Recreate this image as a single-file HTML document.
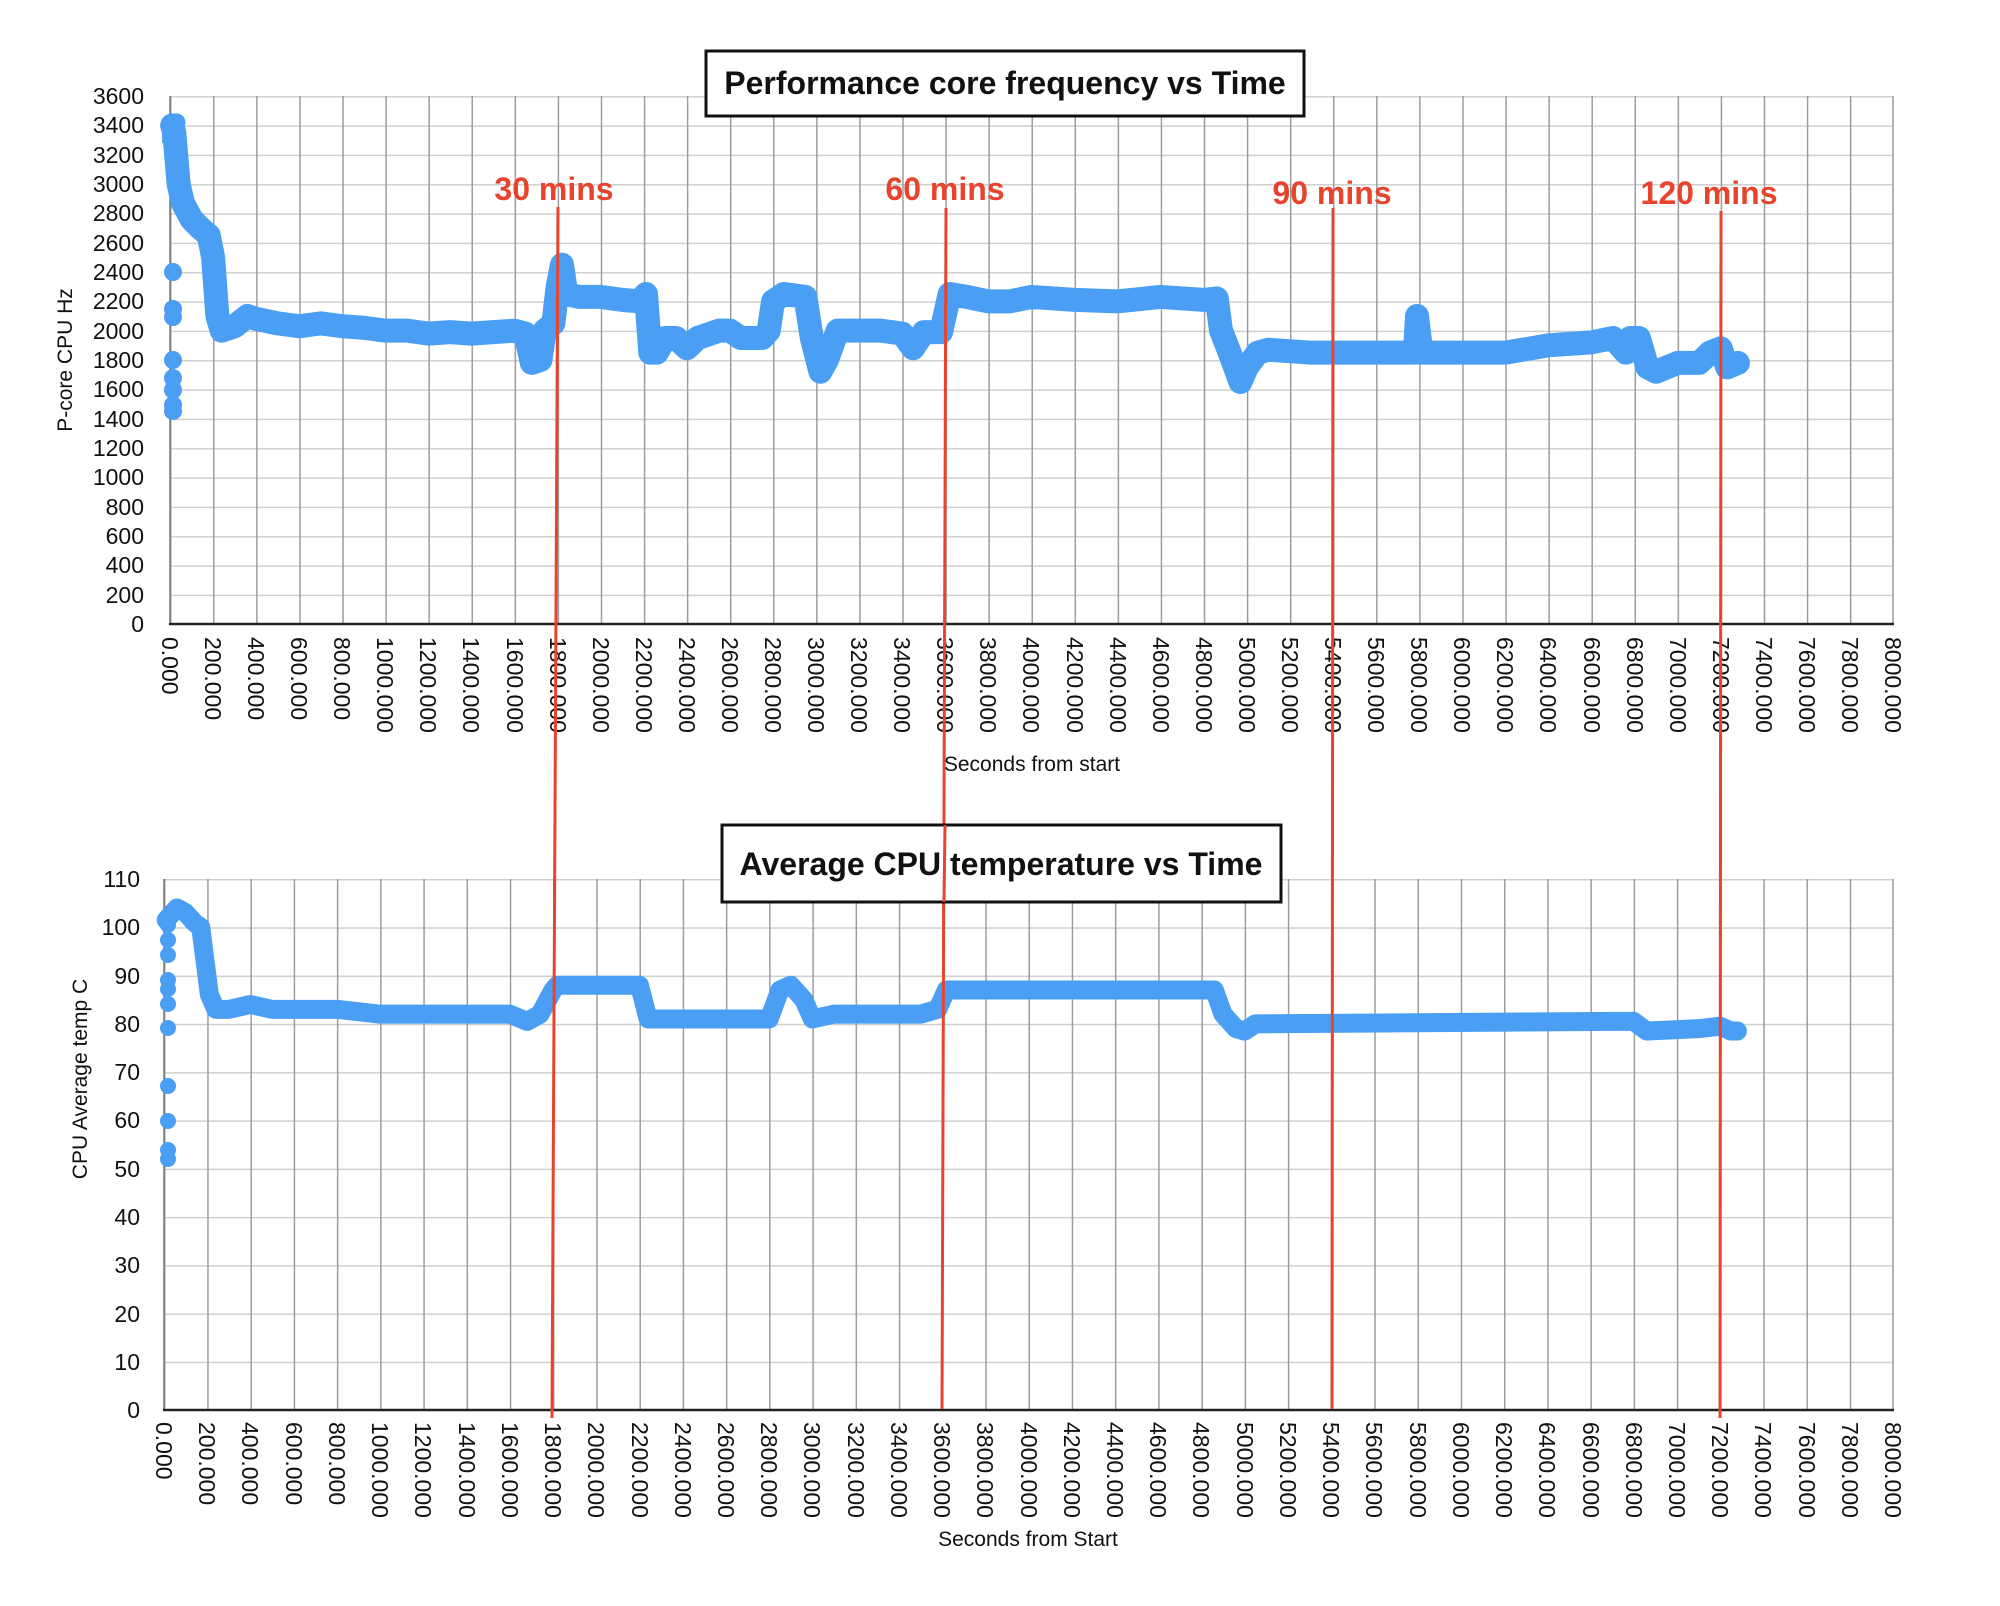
<!DOCTYPE html>
<html><head><meta charset="utf-8"><style>html,body{margin:0;padding:0;background:#fff}svg{display:block}</style></head>
<body>
<svg width="2000" height="1606" viewBox="0 0 2000 1606" xmlns="http://www.w3.org/2000/svg" font-family="Liberation Sans, Arial, sans-serif">
<defs>
<pattern id="g1" patternUnits="userSpaceOnUse" x="170" y="96" width="43.075" height="29.333">
<line x1="0" y1="0.5" x2="43.075" y2="0.5" stroke="#cfcfcf" stroke-width="2"/>
<line x1="0.7" y1="0" x2="0.7" y2="29.333" stroke="#9a9a9a" stroke-width="1.5"/>
</pattern>
<pattern id="g2" patternUnits="userSpaceOnUse" x="164" y="879" width="43.225" height="48.273">
<line x1="0" y1="0.5" x2="43.225" y2="0.5" stroke="#cfcfcf" stroke-width="2"/>
<line x1="0.7" y1="0" x2="0.7" y2="48.273" stroke="#9a9a9a" stroke-width="1.5"/>
</pattern>
</defs>
<rect width="2000" height="1606" fill="#fff"/>
<rect x="170" y="96" width="1723" height="528" fill="url(#g1)"/>
<line x1="1893" y1="96" x2="1893" y2="624" stroke="#9a9a9a" stroke-width="1.5"/>
<line x1="170" y1="96" x2="170" y2="624" stroke="#777" stroke-width="1.5"/>
<line x1="169" y1="624" x2="1894" y2="624" stroke="#222" stroke-width="2.5"/>
<rect x="164" y="879" width="1729" height="531" fill="url(#g2)"/>
<line x1="1893" y1="879" x2="1893" y2="1410" stroke="#9a9a9a" stroke-width="1.5"/>
<line x1="164" y1="879" x2="164" y2="1410" stroke="#777" stroke-width="1.5"/>
<line x1="163" y1="1410" x2="1894" y2="1410" stroke="#222" stroke-width="2.5"/>

<g font-size="23" text-anchor="end" fill="#111">
<text x="144" y="632">0</text><text x="144" y="603">200</text><text x="144" y="573">400</text><text x="144" y="544">600</text><text x="144" y="515">800</text><text x="144" y="485">1000</text><text x="144" y="456">1200</text><text x="144" y="427">1400</text><text x="144" y="397">1600</text><text x="144" y="368">1800</text><text x="144" y="339">2000</text><text x="144" y="309">2200</text><text x="144" y="280">2400</text><text x="144" y="251">2600</text><text x="144" y="221">2800</text><text x="144" y="192">3000</text><text x="144" y="163">3200</text><text x="144" y="133">3400</text><text x="144" y="104">3600</text>
</g>
<g font-size="23" text-anchor="end" fill="#111">
<text x="140" y="1418">0</text><text x="140" y="1370">10</text><text x="140" y="1322">20</text><text x="140" y="1273">30</text><text x="140" y="1225">40</text><text x="140" y="1177">50</text><text x="140" y="1128">60</text><text x="140" y="1080">70</text><text x="140" y="1032">80</text><text x="140" y="984">90</text><text x="140" y="935">100</text><text x="140" y="887">110</text>
</g>
<g font-size="23" fill="#111">
<text transform="translate(162,637) rotate(90)">0.000</text>
<text transform="translate(205,637) rotate(90)">200.000</text>
<text transform="translate(248,637) rotate(90)">400.000</text>
<text transform="translate(291,637) rotate(90)">600.000</text>
<text transform="translate(334,637) rotate(90)">800.000</text>
<text transform="translate(377,637) rotate(90)">1000.000</text>
<text transform="translate(420,637) rotate(90)">1200.000</text>
<text transform="translate(463,637) rotate(90)">1400.000</text>
<text transform="translate(507,637) rotate(90)">1600.000</text>
<text transform="translate(550,637) rotate(90)">1800.000</text>
<text transform="translate(593,637) rotate(90)">2000.000</text>
<text transform="translate(636,637) rotate(90)">2200.000</text>
<text transform="translate(679,637) rotate(90)">2400.000</text>
<text transform="translate(722,637) rotate(90)">2600.000</text>
<text transform="translate(765,637) rotate(90)">2800.000</text>
<text transform="translate(808,637) rotate(90)">3000.000</text>
<text transform="translate(851,637) rotate(90)">3200.000</text>
<text transform="translate(894,637) rotate(90)">3400.000</text>
<text transform="translate(937,637) rotate(90)">3600.000</text>
<text transform="translate(980,637) rotate(90)">3800.000</text>
<text transform="translate(1023,637) rotate(90)">4000.000</text>
<text transform="translate(1067,637) rotate(90)">4200.000</text>
<text transform="translate(1110,637) rotate(90)">4400.000</text>
<text transform="translate(1153,637) rotate(90)">4600.000</text>
<text transform="translate(1196,637) rotate(90)">4800.000</text>
<text transform="translate(1239,637) rotate(90)">5000.000</text>
<text transform="translate(1282,637) rotate(90)">5200.000</text>
<text transform="translate(1325,637) rotate(90)">5400.000</text>
<text transform="translate(1368,637) rotate(90)">5600.000</text>
<text transform="translate(1411,637) rotate(90)">5800.000</text>
<text transform="translate(1454,637) rotate(90)">6000.000</text>
<text transform="translate(1497,637) rotate(90)">6200.000</text>
<text transform="translate(1540,637) rotate(90)">6400.000</text>
<text transform="translate(1584,637) rotate(90)">6600.000</text>
<text transform="translate(1627,637) rotate(90)">6800.000</text>
<text transform="translate(1670,637) rotate(90)">7000.000</text>
<text transform="translate(1713,637) rotate(90)">7200.000</text>
<text transform="translate(1756,637) rotate(90)">7400.000</text>
<text transform="translate(1799,637) rotate(90)">7600.000</text>
<text transform="translate(1842,637) rotate(90)">7800.000</text>
<text transform="translate(1885,637) rotate(90)">8000.000</text>
</g>
<g font-size="23" fill="#111">
<text transform="translate(156,1422) rotate(90)">0.000</text>
<text transform="translate(199,1422) rotate(90)">200.000</text>
<text transform="translate(242,1422) rotate(90)">400.000</text>
<text transform="translate(286,1422) rotate(90)">600.000</text>
<text transform="translate(329,1422) rotate(90)">800.000</text>
<text transform="translate(372,1422) rotate(90)">1000.000</text>
<text transform="translate(415,1422) rotate(90)">1200.000</text>
<text transform="translate(459,1422) rotate(90)">1400.000</text>
<text transform="translate(502,1422) rotate(90)">1600.000</text>
<text transform="translate(545,1422) rotate(90)">1800.000</text>
<text transform="translate(588,1422) rotate(90)">2000.000</text>
<text transform="translate(632,1422) rotate(90)">2200.000</text>
<text transform="translate(675,1422) rotate(90)">2400.000</text>
<text transform="translate(718,1422) rotate(90)">2600.000</text>
<text transform="translate(761,1422) rotate(90)">2800.000</text>
<text transform="translate(804,1422) rotate(90)">3000.000</text>
<text transform="translate(848,1422) rotate(90)">3200.000</text>
<text transform="translate(891,1422) rotate(90)">3400.000</text>
<text transform="translate(934,1422) rotate(90)">3600.000</text>
<text transform="translate(977,1422) rotate(90)">3800.000</text>
<text transform="translate(1021,1422) rotate(90)">4000.000</text>
<text transform="translate(1064,1422) rotate(90)">4200.000</text>
<text transform="translate(1107,1422) rotate(90)">4400.000</text>
<text transform="translate(1150,1422) rotate(90)">4600.000</text>
<text transform="translate(1193,1422) rotate(90)">4800.000</text>
<text transform="translate(1237,1422) rotate(90)">5000.000</text>
<text transform="translate(1280,1422) rotate(90)">5200.000</text>
<text transform="translate(1323,1422) rotate(90)">5400.000</text>
<text transform="translate(1366,1422) rotate(90)">5600.000</text>
<text transform="translate(1410,1422) rotate(90)">5800.000</text>
<text transform="translate(1453,1422) rotate(90)">6000.000</text>
<text transform="translate(1496,1422) rotate(90)">6200.000</text>
<text transform="translate(1539,1422) rotate(90)">6400.000</text>
<text transform="translate(1583,1422) rotate(90)">6600.000</text>
<text transform="translate(1626,1422) rotate(90)">6800.000</text>
<text transform="translate(1669,1422) rotate(90)">7000.000</text>
<text transform="translate(1712,1422) rotate(90)">7200.000</text>
<text transform="translate(1755,1422) rotate(90)">7400.000</text>
<text transform="translate(1799,1422) rotate(90)">7600.000</text>
<text transform="translate(1842,1422) rotate(90)">7800.000</text>
<text transform="translate(1885,1422) rotate(90)">8000.000</text>
</g>

<text x="1032" y="771" font-size="21" text-anchor="middle" fill="#111">Seconds from start</text>
<text x="1028" y="1546" font-size="21" text-anchor="middle" fill="#111">Seconds from Start</text>
<text transform="translate(72,360) rotate(-90)" font-size="21" text-anchor="middle" fill="#111">P-core CPU Hz</text>
<text transform="translate(87,1079) rotate(-90)" font-size="21" text-anchor="middle" fill="#111">CPU Average temp C</text>

<g transform="translate(170,624) scale(0.215375,-0.146667)">
<polyline fill="none" stroke="#4a9ff5" stroke-width="24" stroke-linejoin="round" stroke-linecap="round" vector-effect="non-scaling-stroke"
points="10,3400 20,3350 40,3000 60,2870 100,2760 140,2700 180,2650 200,2500 220,2100 240,2000 300,2030 360,2100 400,2080 500,2050 600,2030 700,2050 800,2030 900,2020 1000,2000 1100,2000 1200,1980 1300,1990 1400,1980 1500,1990 1600,2000 1650,1980 1680,1780 1720,1800 1740,2000 1780,2050 1800,2300 1820,2450 1840,2250 1900,2230 2000,2230 2100,2210 2180,2200 2210,2250 2230,1850 2260,1850 2300,1950 2350,1950 2400,1880 2450,1950 2550,2000 2600,2000 2650,1950 2750,1950 2780,2000 2800,2200 2850,2250 2950,2230 2980,1950 3020,1720 3050,1800 3100,2000 3200,2000 3300,2000 3400,1980 3450,1880 3500,1990 3580,1990 3620,2250 3700,2230 3800,2200 3900,2200 4000,2230 4200,2210 4400,2200 4600,2230 4800,2210 4860,2220 4880,2000 4920,1850 4970,1650 5000,1750 5050,1850 5100,1870 5300,1850 5500,1850 5700,1850 5780,1850 5790,2100 5810,1850 6000,1850 6200,1850 6400,1900 6600,1920 6700,1950 6760,1850 6780,1950 6820,1950 6860,1750 6900,1720 7000,1780 7100,1780 7150,1850 7200,1880 7230,1750 7280,1780"/>
<polyline fill="none" stroke="#4a9ff5" stroke-width="18" stroke-linecap="round" vector-effect="non-scaling-stroke" points="5,3410 5,3280 30,3420"/>
</g>
<g fill="#4a9ff5">
<circle cx="173" cy="272" r="9"/><circle cx="173" cy="309" r="9"/><circle cx="173" cy="317" r="9"/>
<circle cx="173" cy="360" r="9"/><circle cx="173" cy="378" r="9"/><circle cx="173" cy="390" r="9"/><circle cx="173" cy="405" r="9"/><circle cx="173" cy="411" r="9"/>
</g>

<g transform="translate(164,1410) scale(0.216125,-4.82727)">
<polyline fill="none" stroke="#4a9ff5" stroke-width="19" stroke-linejoin="round" stroke-linecap="round" vector-effect="non-scaling-stroke"
points="10,101.5 20,102 60,104 100,103 140,101 170,100 190,93 210,86 240,83 300,83 400,84 500,83 800,83 1000,82 1600,82 1680,80.5 1740,82 1800,87 1820,88 2200,88 2240,81 2400,81 2800,81 2850,87 2900,88 2960,85 3000,81 3100,82 3500,82 3580,83 3620,87 4860,87 4900,82 4960,79 5000,78.5 5050,80 6700,80.5 6800,80.5 6860,78.5 7100,79 7200,79.5 7250,78.5 7280,78.5"/>
</g>
<g fill="#4a9ff5">
<circle cx="168" cy="1159" r="8"/><circle cx="168" cy="1150" r="8"/><circle cx="168" cy="1121" r="8"/>
<circle cx="168" cy="1086" r="8"/><circle cx="168" cy="1028" r="8"/><circle cx="168" cy="1004" r="8"/><circle cx="168" cy="989" r="8"/>
<circle cx="168" cy="980" r="8"/><circle cx="168" cy="955" r="8"/><circle cx="168" cy="940" r="8"/><circle cx="168" cy="925" r="8"/>
</g>

<g stroke="#e8432d" stroke-width="3">
<line x1="558" y1="207" x2="552" y2="1418"/>
<line x1="946" y1="208" x2="942" y2="1409"/>
<line x1="1333" y1="208" x2="1332" y2="1409"/>
<line x1="1721" y1="211" x2="1720" y2="1418"/>
</g>
<g fill="#e8432d" font-size="32" font-weight="bold" text-anchor="middle">
<text x="554" y="200">30 mins</text>
<text x="945" y="200">60 mins</text>
<text x="1332" y="204">90 mins</text>
<text x="1709" y="204">120 mins</text>
</g>

<rect x="706" y="51" width="598" height="65" fill="#fff" stroke="#111" stroke-width="3"/>
<text x="1005" y="94" font-size="32" font-weight="bold" text-anchor="middle" fill="#111">Performance core frequency vs Time</text>
<rect x="722" y="825" width="559" height="77" fill="#fff" stroke="#111" stroke-width="3"/>
<text x="1001" y="875" font-size="32" font-weight="bold" text-anchor="middle" fill="#111">Average CPU temperature vs Time</text>
<line x1="945" y1="825" x2="944" y2="902" stroke="#e8432d" stroke-width="3"/>
</svg>
</body></html>
